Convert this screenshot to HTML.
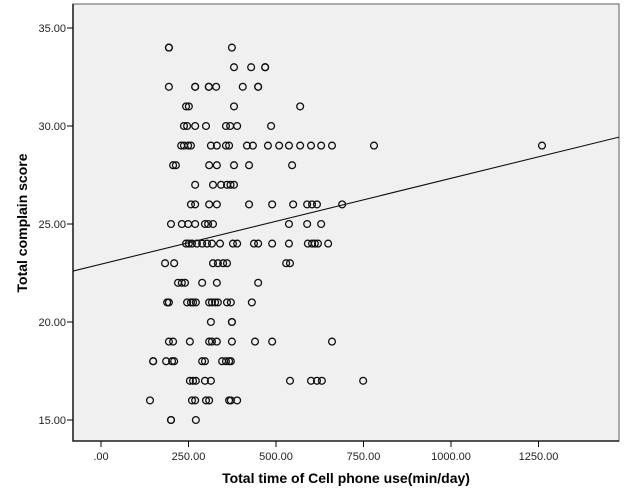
<!DOCTYPE html>
<html><head><meta charset="utf-8"><style>
body{margin:0;background:#fff;}
svg{display:block;font-family:"Liberation Sans",Arial,sans-serif;}
</style></head><body>
<svg id="chart" width="626" height="500"></svg>
<script>
const xTicks=[0,250,500,750,1000,1250];
const xTickLabels=[".00","250.00","500.00","750.00","1000.00","1250.00"];
const yTicks=[15,20,25,30,35];
const yTickLabels=["15.00","20.00","25.00","30.00","35.00"];
const scoreRows=[34,33,32,31,30,29,28,27,26,25,24,23,22,21,20,19,18,17,16,15];
const timeRows=[
[194,194,374],
[380,429,469,469],
[194,269,269,308,308,329,405,449,449],
[243,251,380,569],
[237,246,269,300,357,369,389,486],
[229,237,249,257,314,331,357,366,417,434,477,509,537,569,600,629,660,780,1260],
[206,214,309,331,380,423,546],
[269,320,343,360,370,380],
[257,269,309,331,423,489,549,589,603,617,689],
[200,231,249,269,297,306,320,537,589,629],
[243,251,260,274,289,303,317,340,377,389,437,449,489,537,591,603,611,620,649],
[183,209,320,334,349,360,529,540],
[220,231,240,289,331,449],
[189,194,246,257,263,271,309,317,326,334,360,371,431],
[314,374,374],
[194,206,254,309,317,331,374,440,489,660],
[149,149,186,203,209,289,297,346,357,366,371],
[254,263,271,297,314,540,600,617,631,749],
[140,260,269,300,309,366,371,389],
[200,200,271]
];
const lineIntercept=22.95, lineSlope=0.00438;
const xMin=-80,xMax=1480;

const svg=document.getElementById('chart');
const NS="http://www.w3.org/2000/svg";
const L=73,R=619,T=4,B=441;
function xs(v){return 101+v*0.35;}
function ys(v){return 420-(v-15)*19.6;}
function mk(tag,attrs,parent){const e=document.createElementNS(NS,tag);for(const k in attrs)e.setAttribute(k,attrs[k]);(parent||svg).appendChild(e);return e;}

const bg=mk('rect',{x:L,y:T,width:R-L,height:B-T,fill:'#f0f0f0',stroke:'#777','stroke-width':1.2});


const ax=mk('path',{d:`M${L},${T} L${L},${B} L${R},${B}`,fill:'none',stroke:'#000','stroke-width':1.3});



xTicks.forEach((v,i)=>{
  const g=mk('g',{});
  
  
  mk('line',{x1:xs(v),x2:xs(v),y1:B,y2:B+6,stroke:'#000'},g);
  const t=mk('text',{x:xs(v),y:B+19,'text-anchor':'middle','font-size':11,fill:'#222'},g);
  t.textContent=xTickLabels[i];
});
yTicks.forEach((v,i)=>{
  const g=mk('g',{});
  
  
  mk('line',{x1:L-6,x2:L,y1:ys(v),y2:ys(v),stroke:'#000'},g);
  const t=mk('text',{x:L-7,y:ys(v)+4,'text-anchor':'end','font-size':11,fill:'#222'},g);
  t.textContent=yTickLabels[i];
});

const pts=mk('g',{fill:'none',stroke:'#111','stroke-width':1.3});


scoreRows.forEach((s,i)=>{
  timeRows[i].forEach(v=>{
    const c=mk('circle',{cx:xs(v),cy:ys(s),r:3.4},pts);
    
    
  });
});

const fit=mk('line',{x1:xs(xMin),y1:ys(lineIntercept+lineSlope*xMin),x2:xs(xMax),y2:ys(lineIntercept+lineSlope*xMax),stroke:'#111','stroke-width':1.1});



const xt=mk('text',{x:346,y:483,'text-anchor':'middle','font-size':14,'font-weight':'bold',fill:'#000'});
xt.textContent='Total time of Cell phone use(min/day)';


const yt=mk('text',{x:0,y:0,'text-anchor':'middle','font-size':14,'font-weight':'bold',fill:'#000',transform:'translate(27,223) rotate(-90)'});
yt.textContent='Total complain score';


</script>
</body></html>
